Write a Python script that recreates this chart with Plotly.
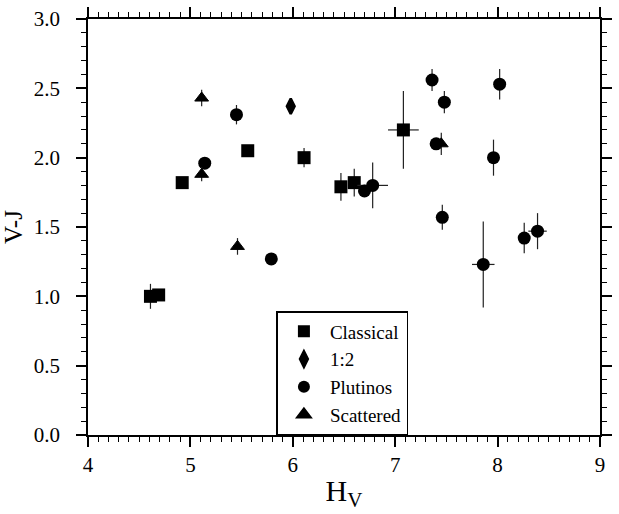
import plotly.graph_objects as go

# Absolute magnitude H_V and V-J colour for each dynamical class
classical_h = [4.61, 4.69, 4.92, 5.56, 6.11, 6.47, 6.60, 7.08]
classical_vj = [1.00, 1.01, 1.82, 2.05, 2.00, 1.79, 1.82, 2.20]
classical_vj_err = [0.09, 0.03, 0.03, 0.03, 0.07, 0.10, 0.10, 0.28]
classical_h_err = [0, 0, 0, 0, 0, 0, 0, 0.15]

res12_h = [5.98]
res12_vj = [2.37]
res12_vj_err = [0.04]
res12_h_err = [0]

plutino_h = [5.14, 5.45, 5.79, 6.70, 6.78, 7.36, 7.40, 7.48, 7.46, 7.86, 7.96, 8.02, 8.26, 8.39]
plutino_vj = [1.96, 2.31, 1.27, 1.76, 1.80, 2.56, 2.10, 2.40, 1.57, 1.23, 2.00, 2.53, 1.42, 1.47]
plutino_vj_err = [0.03, 0.07, 0.03, 0.04, 0.165, 0.08, 0.03, 0.08, 0.09, 0.31, 0.13, 0.11, 0.11, 0.13]
plutino_h_err = [0, 0, 0, 0, 0.15, 0, 0, 0, 0, 0.11, 0, 0, 0, 0.09]

scattered_h = [5.11, 5.11, 5.46, 7.45]
scattered_vj = [2.43, 1.88, 1.36, 2.10]
scattered_vj_err = [0.06, 0.05, 0.06, 0.08]
scattered_h_err = [0, 0, 0, 0]

x_ticks = [4, 5, 6, 7, 8, 9]
y_ticks = [0.0, 0.5, 1.0, 1.5, 2.0, 2.5, 3.0]
x_range = [4, 9]
y_range = [0, 3]

SERIF = "Liberation Serif"

groups = [
    ("Classical", classical_h, classical_vj, classical_h_err, classical_vj_err, "square", 13, 0),
    ("1:2", res12_h, res12_vj, res12_h_err, res12_vj_err, "diamond-tall", 11, 2.5),
    ("Plutinos", plutino_h, plutino_vj, plutino_h_err, plutino_vj_err, "circle", 13, 0),
    ("Scattered", scattered_h, scattered_vj, scattered_h_err, scattered_vj_err, "triangle-up", 12, 1),
]

fig = go.Figure()
for name, hx, vj, hx_err, vj_err, symbol, size, lw in groups:
    fig.add_trace(go.Scatter(
        x=hx, y=vj, mode="markers", name=name,
        marker=dict(symbol=symbol, size=size, color="black",
                    line=dict(width=lw, color="black")),
        error_y=dict(type="data", array=vj_err, visible=True,
                     color="#222", thickness=1.2, width=0),
        error_x=dict(type="data", array=hx_err, visible=True,
                     color="#222", thickness=1.2, width=0),
    ))

# closed frame: major and minor ticks mirrored on the top and right edges
tick_style = dict(
    showline=True, linecolor="black", linewidth=1.5, mirror="ticks",
    ticks="outside", ticklen=10, tickwidth=1.5, tickcolor="black",
    showgrid=False, zeroline=False,
    minor=dict(dtick=0.1, ticks="outside", ticklen=5, tickwidth=1.2,
               tickcolor="black", showgrid=False),
    tickfont=dict(family=SERIF, size=21, color="black"),
)

fig.update_layout(
    width=619, height=514,
    margin=dict(l=88, r=7, t=15, b=79),
    plot_bgcolor="white", paper_bgcolor="white",
    showlegend=True,
    xaxis=dict(
        range=x_range, tickvals=x_ticks, ticktext=[str(v) for v in x_ticks],
        title=dict(text="H<sub>V</sub>", font=dict(family=SERIF, size=30, color="black"),
                   standoff=4),
        **tick_style,
    ),
    yaxis=dict(
        range=y_range, tickvals=y_ticks, ticktext=[f"{v:.1f}" for v in y_ticks],
        ticklabelstandoff=12,
        title=dict(text="V-J", font=dict(family=SERIF, size=25, color="black"),
                   standoff=8),
        **tick_style,
    ),
    legend=dict(
        x=0.368, y=0.0, xanchor="left", yanchor="bottom",
        bgcolor="white", bordercolor="black", borderwidth=1.5,
        font=dict(family=SERIF, size=19, color="black"),
        itemsizing="constant", itemwidth=42, tracegroupgap=0,
    ),
)

fig.write_html("out.html")
